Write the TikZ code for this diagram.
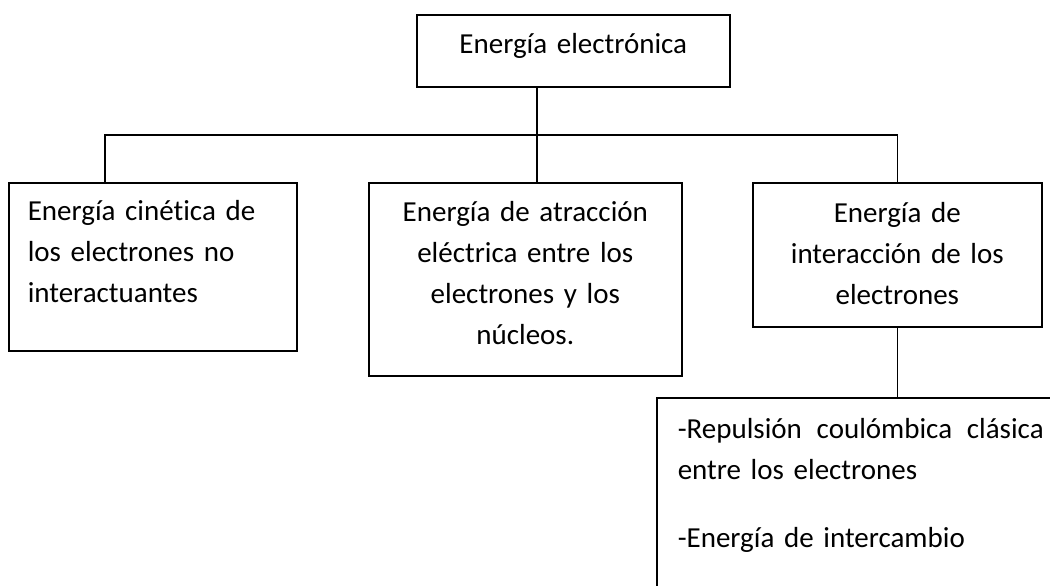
\documentclass[tikz,border=0pt]{standalone}
\usepackage{fontspec}
\setmainfont{Carlito}[Ligatures=NoCommon]
\usepackage{tikz}
\usetikzlibrary{positioning}
\tikzset{
  caja/.style={draw=black, line width=1.6pt, anchor=north west,
               inner xsep=10pt, inner ysep=0pt,
               font=\fontsize{29}{41}\selectfont},
  enlace/.style={draw=black, line width=1.6pt},
}

\begin{document}
\begin{tikzpicture}[x=1pt,y=-1pt]
\clip (0,0) rectangle (1050,586);
\fill[white] (0,0) rectangle (1050,586);
\node[caja, align=center, text width=293pt, text height=39pt, text depth=33pt]
  (energia) at (416,14) {Energía electrónica};
\node[caja, align=left, inner xsep=19pt, text width=250pt, text height=38pt, text depth=130pt]
  (cinetica) at (8,182) {Energía cinét\kern0pt ica de\\los electrones no\\interactuantes};
\node[caja, align=center, text width=293pt, text height=39pt, text depth=154pt]
  (atraccion) at (368,182) {Energía de atracción\\eléctrica entre los\\electrones y los\\núcleos.};
\node[caja, align=center, text width=269pt, text height=40pt, text depth=104pt]
  (interaccion) at (752,182) {Energía de\\interacción de los\\electrones};
\node[caja, align=left, inner xsep=21pt, text width=366pt, text height=41pt, text depth=200pt]
  (repulsion) at (656,397) {\hbox to 366pt{-Repulsión\hfill coulómbica\hfill clásica}\\entre los electrones\\[27pt]-Energía de intercambio};
% conectores
\coordinate (bus) at (537,135);
\draw[enlace] (energia.south -| bus) -- (bus);
\draw[enlace] ([xshift=-48pt]cinetica.north) |- (bus -| interaccion.north) -- (interaccion.north);
\draw[enlace] (bus) -- (bus |- atraccion.north);
\draw[enlace] (interaccion.south) -- (interaccion.south |- repulsion.north);
\end{tikzpicture}
\end{document}
